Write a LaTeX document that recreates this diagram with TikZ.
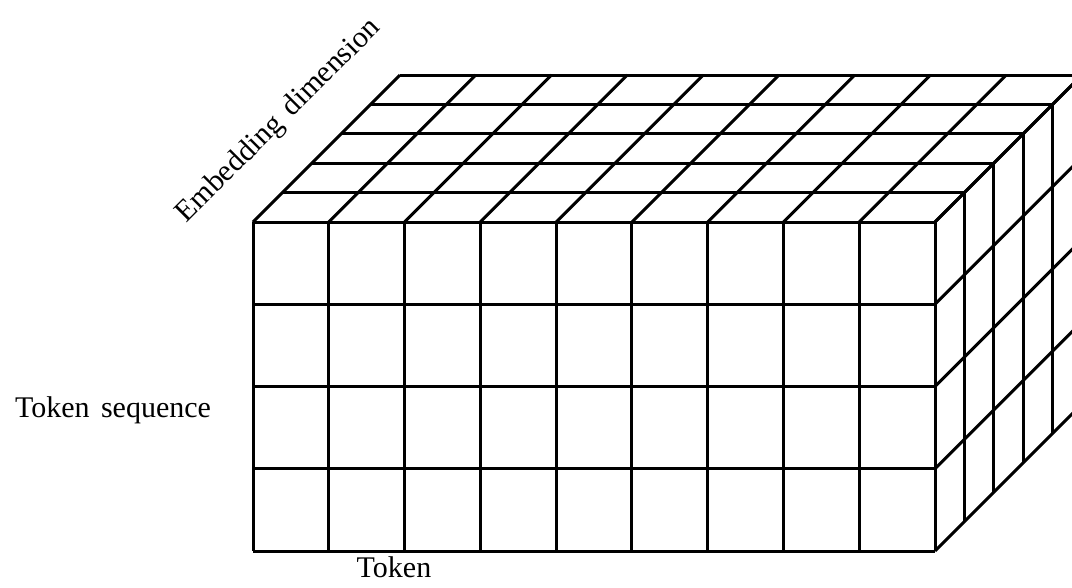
\documentclass[tikz,border=0pt]{standalone}
\usepackage{fontspec}
\setmainfont{Liberation Serif}
\begin{document}
\begin{tikzpicture}[x=1pt,y=-1pt,
  gridline/.style={line width=3pt,black},
  lbl/.style={font=\fontsize{30}{35}\selectfont,inner sep=0pt}]
\useasboundingbox (0,0) rectangle (1072,587);
\clip (0,0) rectangle (1072,587);
\def\cw{75.78}\def\rh{82.25}\def\dd{29.4}
% front face
\foreach \i in {0,...,9}{
  \draw[gridline] (253+\i*\cw,222) -- (253+\i*\cw,551);
  \draw[gridline] (253+\i*\cw,222) -- ++(147,-147);
}
\foreach \j in {0,...,4}{
  \draw[gridline] (253,222+\j*\rh) -- (935,222+\j*\rh);
  \draw[gridline] (935,222+\j*\rh) -- ++(147,-147);
}
% depth layers
\foreach \k in {1,...,5}{
  \draw[gridline] (253+\k*\dd,222-\k*\dd) -- (935+\k*\dd,222-\k*\dd) -- (935+\k*\dd,551-\k*\dd);
}
\node[lbl] (seq) at (113,410) {Token\hspace{4pt} sequence};
\node[lbl] (tok) at (394,567) {Token};
\node[lbl,rotate=45] (emb) at (279,121) {Embedding\hspace{4pt} dimension};
\end{tikzpicture}
\end{document}
